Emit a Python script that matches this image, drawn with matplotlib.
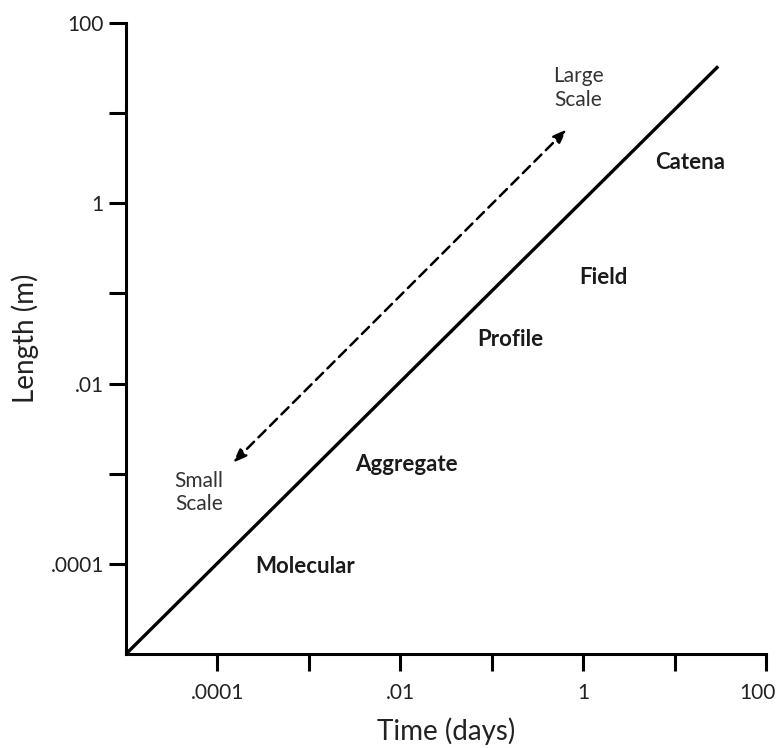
import matplotlib
matplotlib.use("Agg")
import matplotlib.pyplot as plt
import matplotlib.transforms as mtransforms
from matplotlib.ticker import FixedLocator, FixedFormatter, NullLocator

plt.rcParams["font.family"] = ["Lato", "DejaVu Sans"]

# data
line_x = [1e-5, 30]
line_y = [1e-5, 33]
arrow_lo = (1.48e-4, 1.32e-3)
arrow_hi = (0.66, 6.6)

x_ticks = [1e-4, 1e-3, 1e-2, 1e-1, 1, 10, 100]
x_labels = [".0001", "", ".01", "", "1", "", "100"]
y_ticks = [1e-4, 1e-3, 1e-2, 1e-1, 1, 10, 100]
y_labels = [".0001", "", ".01", "", "1", "", "100"]

regions = ["Molecular", "Aggregate", "Profile", "Field", "Catena"]
region_x = [9.1e-4, 0.0117, 0.16, 1.66, 14.8]
region_y = [9.3e-5, 1.26e-3, 0.031, 0.15, 2.8]

fig = plt.figure(figsize=(7.82, 7.48), dpi=100)
ax = fig.add_axes([0.1611, 0.1257, 0.8184, 0.8436])
ax.set_xscale("log")
ax.set_yscale("log")
ax.set_xlim(1e-5, 100)
ax.set_ylim(1e-5, 100)

ax.plot(line_x, line_y, color="black", lw=2.4, solid_capstyle="butt", clip_on=False)

ax.annotate("", xy=arrow_hi, xytext=arrow_lo,
            arrowprops=dict(arrowstyle="<|-|>,head_length=0.8,head_width=0.3",
                            color="black", lw=1.8, ls=(0, (4, 2.5)),
                            shrinkA=0, shrinkB=0))

ax.text(0.89, 19, "Large\nScale", ha="center", va="center", fontsize=15,
        color="#333333", linespacing=1.2)
ax.text(6.3e-5, 6.2e-4, "Small\nScale", ha="center", va="center", fontsize=15,
        color="#333333", linespacing=1.2)

for name, rx, ry in zip(regions, region_x, region_y):
    ax.text(rx, ry, name, ha="center", va="center", fontsize=16,
            fontweight="bold", color="#1a1a1a")

for s in ("top", "right"):
    ax.spines[s].set_visible(False)
for s in ("left", "bottom"):
    ax.spines[s].set_linewidth(2.2)

ax.xaxis.set_major_locator(FixedLocator(x_ticks))
ax.xaxis.set_major_formatter(FixedFormatter(x_labels))
ax.yaxis.set_major_locator(FixedLocator(y_ticks))
ax.yaxis.set_major_formatter(FixedFormatter(y_labels))
ax.xaxis.set_minor_locator(NullLocator())
ax.yaxis.set_minor_locator(NullLocator())
ax.tick_params(axis="x", direction="out", length=12, width=2.2, pad=9,
               labelsize=15, colors="black")
ax.tick_params(axis="y", direction="out", length=12, width=2.2, pad=4,
               labelsize=15, colors="black")
for lbl in ax.get_xticklabels() + ax.get_yticklabels():
    lbl.set_color("#222222")

# keep the last x label inside the canvas
last = ax.get_xticklabels()[-1]
last.set_transform(last.get_transform()
                   + mtransforms.ScaledTranslation(-6 / 72, 0, fig.dpi_scale_trans))

ax.set_xlabel("Time (days)", fontsize=20, labelpad=10, color="#222222")
ax.set_ylabel("Length (m)", fontsize=20, labelpad=8, color="#222222")

fig.savefig("out.png", dpi=100)
